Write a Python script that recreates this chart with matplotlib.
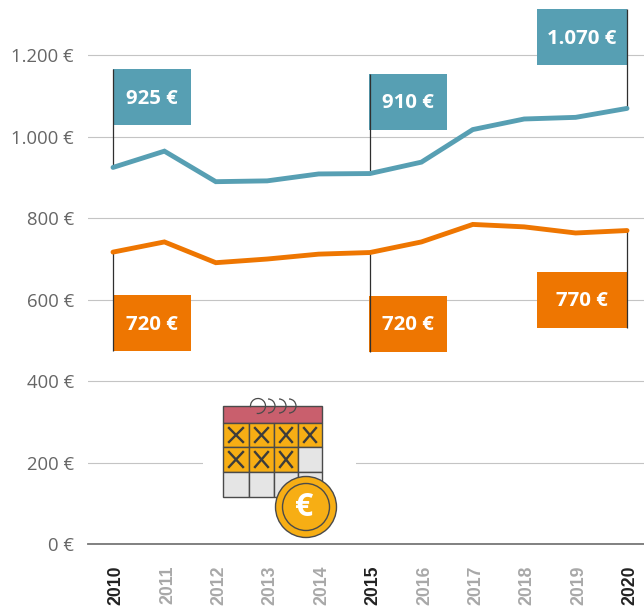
#!/usr/bin/env python3
# -*- coding: utf-8 -*-

import matplotlib
matplotlib.use("Agg")
import matplotlib.pyplot as plt
from matplotlib.patches import Rectangle, Circle, Arc
from matplotlib.transforms import ScaledTranslation

# ========= DATA =========
YEARS = [2010, 2011, 2012, 2013, 2014, 2015, 2016, 2017, 2018, 2019, 2020]
TEAL_VALUES = [925, 965, 890, 892, 909, 910, 938, 1018, 1044, 1048, 1070]
ORANGE_VALUES = [717, 742, 691, 700, 712, 716, 742, 785, 779, 764, 770]
Y_TICKS = [0, 200, 400, 600, 800, 1000, 1200]
Y_LABELS = ["0 €", "200 €", "400 €", "600 €", "800 €", "1.000 €", "1.200 €"]
BOLD_YEARS = [2010, 2015, 2020]
TEAL_FLAGS = ["925 €", "910 €", "1.070 €"]
ORANGE_FLAGS = ["720 €", "720 €", "770 €"]

TEAL = "#579fb3"
ORANGE = "#ee7601"
W, H = 644, 608
Y0_PX, PX_PER_UNIT = 544.0, 0.4071
X0_PX, PX_PER_YEAR = 113.0, 51.4


def px_x(x):
    return 2010 + (x - X0_PX) / PX_PER_YEAR


def px_y(y):
    return (Y0_PX - y) / PX_PER_UNIT


def draw_flag(ax, year, value, box_left, box_right, box_top, box_bottom, text, color, line_end):
    # pole from the line point to the far edge of the flag
    ax.plot([year, year], [value, px_y(line_end)], color="#2f2f2f", lw=0.9, zorder=4,
            solid_capstyle="butt", clip_on=False)
    x0, x1 = px_x(box_left), px_x(box_right)
    y0, y1 = px_y(box_bottom), px_y(box_top)
    ax.add_patch(Rectangle((x0, y0), x1 - x0, y1 - y0, fc=color, ec="none", zorder=3, clip_on=False))
    ax.text((x0 + x1) / 2, (y0 + y1) / 2 - 1.5 / PX_PER_UNIT, text, color="white", fontsize=14.7,
            fontweight="bold", family="Open Sans", ha="center", va="center", zorder=5)


def draw_icon(ov):
    edge = "#4a4a4a"
    yellow = "#f7ae14"
    # white patch breaks the gridline behind the icon
    ov.add_patch(Rectangle((203, 400), 153, 142, fc="white", ec="none", zorder=1))
    xs = [223, 249, 274, 298, 322]
    ys = [423, 447, 472, 497]
    ov.add_patch(Rectangle((223, 406), 99, 17, fc="#c95f6d", ec=edge, lw=1, zorder=2))
    crossed = {(0, 0), (0, 1), (0, 2), (0, 3), (1, 0), (1, 1), (1, 2)}
    for r in range(3):
        for c in range(4):
            x0, x1, y0, y1 = xs[c], xs[c + 1], ys[r], ys[r + 1]
            fill = yellow if (r, c) in crossed else "#e5e5e5"
            ov.add_patch(Rectangle((x0, y0), x1 - x0, y1 - y0, fc=fill, ec=edge, lw=1, zorder=2))
            if (r, c) in crossed:
                ov.plot([x0 + 6, x1 - 6], [y0 + 5, y1 - 5], color="#3c3c3c", lw=1.7, zorder=3)
                ov.plot([x0 + 6, x1 - 6], [y1 - 5, y0 + 5], color="#3c3c3c", lw=1.7, zorder=3)
    # spiral rings, y runs downward here so angles go clockwise on screen
    ov.add_patch(Arc((258, 406), 15, 15, theta1=170, theta2=360, ec=edge, lw=0.9, zorder=3))
    ov.add_patch(Arc((258, 406), 15, 15, theta1=0, theta2=100, ec=edge, lw=0.9, zorder=3))
    for cx in (268, 279, 289):
        ov.add_patch(Arc((cx, 406), 14, 14, theta1=-90, theta2=90, ec=edge, lw=0.9, zorder=3))
    # coin
    ov.add_patch(Circle((306, 507), 30.5, fc=yellow, ec=edge, lw=1, zorder=4))
    ov.add_patch(Circle((306, 507), 23.5, fc=yellow, ec=edge, lw=1, zorder=4))
    ov.text(304, 507, "€", color="white", fontsize=23, fontweight="bold", family="Open Sans",
            ha="center", va="center", zorder=5)


fig = plt.figure(figsize=(W / 100, H / 100), dpi=100, facecolor="white")
ax = fig.add_axes([88 / W, (H - 544) / H, (W - 88) / W, 544 / H])
ax.set_xlim(px_x(88), px_x(W))
ax.set_ylim(0, px_y(0))

for spine in ["top", "left", "right"]:
    ax.spines[spine].set_visible(False)
ax.spines["bottom"].set_color("#777777")
ax.spines["bottom"].set_linewidth(1.3)
ax.set_axisbelow(True)

ax.set_yticks(Y_TICKS)
ax.set_yticklabels(Y_LABELS, family="Open Sans", fontsize=13.3, color="#666666")
ax.tick_params(axis="y", length=0, pad=10)
ax.yaxis.grid(True, color="#c4c4c4", lw=0.8)

ax.set_xticks(YEARS)
ax.set_xticklabels([str(y) for y in YEARS], rotation=90, family="Liberation Sans",
                   fontsize=12.7, fontweight="bold")
ax.tick_params(axis="x", length=0, pad=29.5)
year_shift = ScaledTranslation(3 / 100, 0, fig.dpi_scale_trans)
for lab, y in zip(ax.get_xticklabels(), YEARS):
    lab.set_color("#222222" if y in BOLD_YEARS else "#a8a8a8")
    lab.set_va("center")
    lab.set_transform(lab.get_transform() + year_shift)

ax.plot(YEARS, TEAL_VALUES, color=TEAL, lw=3.5, zorder=6, solid_joinstyle="miter",
        solid_capstyle="round", clip_on=False)
ax.plot(YEARS, ORANGE_VALUES, color=ORANGE, lw=3.5, zorder=6, solid_joinstyle="miter",
        solid_capstyle="round", clip_on=False)

# flags: teal ones hang up from the line, orange ones down
draw_flag(ax, 2010, TEAL_VALUES[0], 113, 191, 69, 125, TEAL_FLAGS[0], TEAL, 69)
draw_flag(ax, 2015, TEAL_VALUES[5], 369, 447, 74, 130, TEAL_FLAGS[1], TEAL, 74)
draw_flag(ax, 2020, TEAL_VALUES[10], 537, 627, 9, 65, TEAL_FLAGS[2], TEAL, 9)
draw_flag(ax, 2010, ORANGE_VALUES[0], 113, 191, 295, 351, ORANGE_FLAGS[0], ORANGE, 351)
draw_flag(ax, 2015, ORANGE_VALUES[5], 369, 447, 296, 352, ORANGE_FLAGS[1], ORANGE, 352)
draw_flag(ax, 2020, ORANGE_VALUES[10], 537, 627, 272, 328, ORANGE_FLAGS[2], ORANGE, 328)

# overlay in pixel coordinates for the calendar icon
ov = fig.add_axes([0, 0, 1, 1], facecolor="none")
ov.set_xlim(0, W)
ov.set_ylim(H, 0)
ov.axis("off")
draw_icon(ov)

fig.savefig("out.png", dpi=100)
